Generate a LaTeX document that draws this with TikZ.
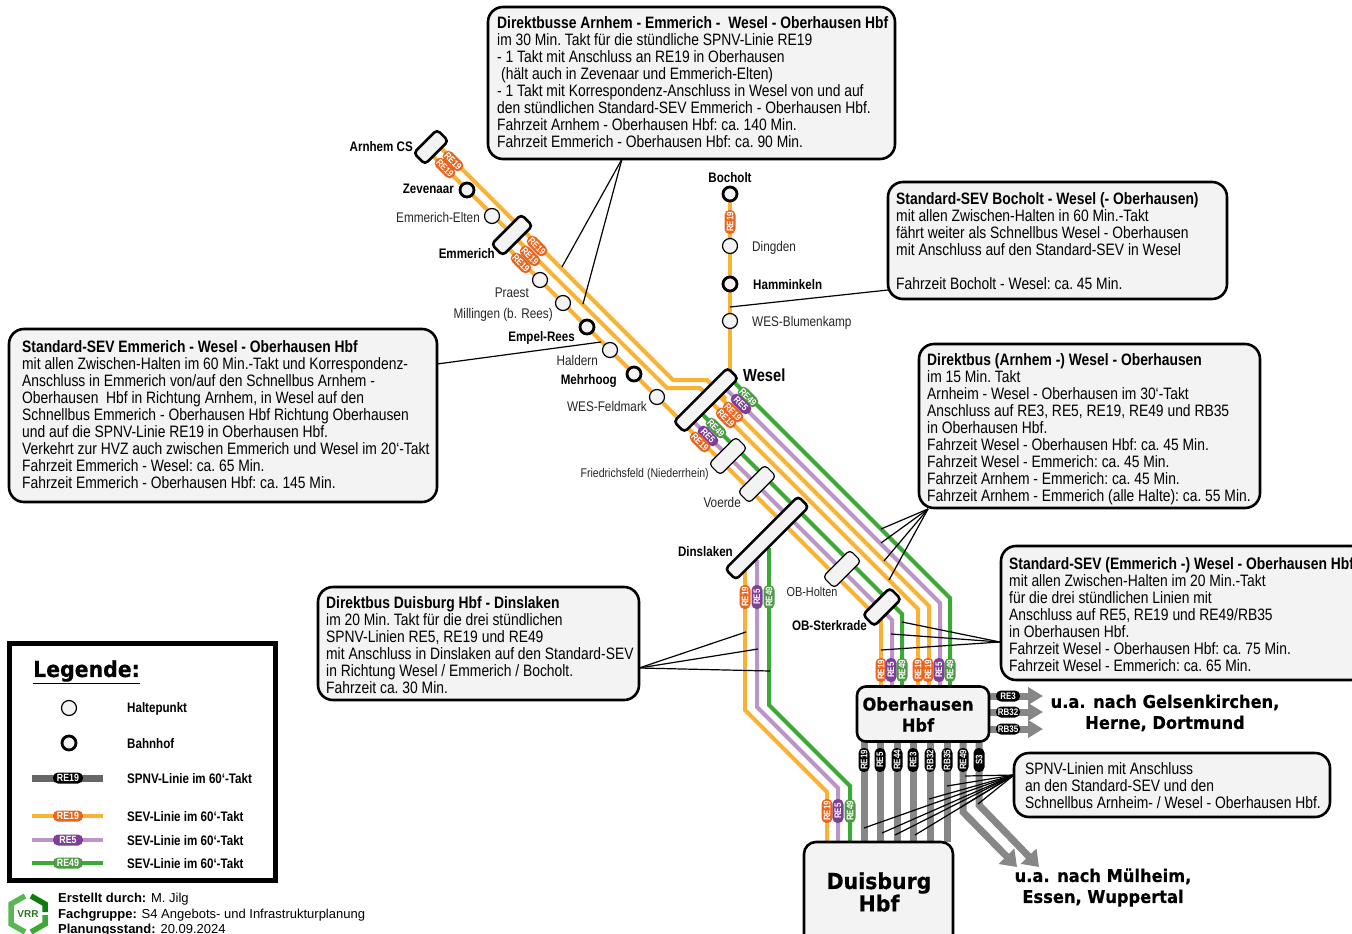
\documentclass[tikz,border=0pt]{standalone}
\usepackage{fontspec}
\setmainfont{Liberation Sans}
\newfontfamily\narrowf[FakeStretch=0.84]{Liberation Sans}
\newfontfamily\blackf[FakeStretch=0.93,BoldFeatures={FakeBold=0.5}]{DejaVu Sans}
\usetikzlibrary{arrows.meta}
\definecolor{lorange}{HTML}{F9B233}
\definecolor{lpurple}{HTML}{BB95C9}
\definecolor{lgreen}{HTML}{3AAA35}
\definecolor{porange}{HTML}{E9651E}
\definecolor{ppurple}{HTML}{7D3F98}
\definecolor{pgreen}{HTML}{4E9A47}
\definecolor{lgray}{HTML}{878787}
\definecolor{boxfill}{HTML}{F3F3F3}
\tikzset{
 x=1pt,y=-1pt,
 sev/.style={line width=4pt,miter limit=10},
 sevo/.style={sev,draw=lorange},
 sevp/.style={sev,draw=lpurple},
 sevg/.style={sev,draw=lgreen},
 spnv/.style={line width=7pt,draw=lgray},
 pill/.style={rounded corners=5pt,minimum width=24pt,minimum height=11pt,inner sep=0pt,text=white,font=\narrowf\bfseries\fontsize{9.5}{10}\selectfont},
 po/.style={pill,fill=porange},
 pp/.style={pill,fill=ppurple},
 pg/.style={pill,fill=pgreen},
 pk/.style={pill,fill=black},
 halt/.style={circle,draw=black,line width=1.2pt,fill=boxfill,minimum size=15pt,inner sep=0pt},
 bhf/.style={circle,draw=black,line width=2.8pt,fill=boxfill,minimum size=14pt,inner sep=0pt},
 bar/.style={rectangle,draw=black,line width=2.6pt,fill=boxfill,rounded corners=4pt,inner sep=0pt,rotate=45,minimum height=15pt},
 thinbar/.style={bar,line width=1.2pt,minimum height=16pt},
 infobox/.style={rectangle,draw=black,line width=2.6pt,fill=boxfill,rounded corners=15pt,inner sep=0pt},
 infotext/.style={anchor=north west,inner sep=0pt,align=left,font=\narrowf\fontsize{16.5}{17}\selectfont\frenchspacing},
 conn/.style={draw=black,line width=1.2pt},
 lab/.style={inner sep=0pt,font=\narrowf\fontsize{14}{16}\selectfont,text=black!85},
 labb/.style={inner sep=0pt,font=\narrowf\bfseries\fontsize{13.8}{16}\selectfont},
 big/.style={inner sep=0pt,align=center,font=\blackf\bfseries\fontsize{17.5}{21}\selectfont},
 hub/.style={rectangle,draw=black,line width=2.6pt,fill=boxfill,rounded corners=9pt,inner sep=0pt},
 legt/.style={anchor=west,inner sep=0pt,font=\narrowf\bfseries\fontsize{13.8}{16}\selectfont},
 foot/.style={anchor=west,inner sep=0pt,font=\fontsize{13}{15}\selectfont},
}
\begin{document}
\begin{tikzpicture}
\clip (0,0) rectangle (1352,934);
\fill[white] (0,0) rectangle (1352,934);

% ---- anchor coordinates of lines
\coordinate (A1) at (437,144);
\coordinate (A2) at (426,149);
\coordinate (E3) at (508,248);
\coordinate (W1) at (726,399);
\coordinate (W2) at (712,400);
\coordinate (WG) at (735,383);
\coordinate (WP) at (727,390);
\coordinate (WO) at (720,397);
\coordinate (WQ) at (712,403);
\coordinate (Wp) at (692,420);
\coordinate (Wg) at (700,412);
\coordinate (DO) at (745,570);
\coordinate (DP) at (757,560);
\coordinate (DG) at (769,548);
\coordinate (Bt) at (730,194);
\coordinate (Bb) at (730,385);

% ---- gray lines
\foreach \i/\x in {1/864,2/880,3/897,4/913,5/930,6/947}{
  \coordinate (gt\i) at (\x,741);
  \coordinate (gb\i) at (\x,842);
  \draw[spnv] (gt\i) -- (gb\i);
}
\coordinate (gt7) at (963,741); \coordinate (gm7) at (963,812); \coordinate (tip7) at (1017,867);
\coordinate (gt8) at (979,741); \coordinate (gm8) at (979,805); \coordinate (tip8) at (1039,867);
\draw[spnv,-{Triangle[length=15pt,width=21pt]}] (gt7) -- (gm7) -- (tip7);
\draw[spnv,-{Triangle[length=15pt,width=21pt]}] (gt8) -- (gm8) -- (tip8);
\foreach \i/\y in {1/696,2/712,3/729}{
  \coordinate (rs\i) at (989,\y); \coordinate (re\i) at (1043,\y);
  \draw[spnv,-{Triangle[length=15pt,width=17pt]}] (rs\i) -- (re\i);
}

% ---- SEV lines
\draw[sevo] (Bt) -- (Bb);
\draw[sevo] (A1) -- (673,380) -- (707,380) -- (W1);
\draw[sevo] (A2) -- (667,388) -- (700,388) -- (W2);
\draw[sevo] (E3) -- (881,621) -- (881,685);
\draw[sevp] (Wp) -- (892,620) -- (892,685);
\draw[sevg] (Wg) -- (902,614) -- (902,685);
\draw[sevg] (WG) -- (950,598) -- (950,685);
\draw[sevp] (WP) -- (940,603) -- (940,685);
\draw[sevo] (WO) -- (929,606) -- (929,685);
\draw[sevo] (WQ) -- (918,609) -- (918,685);
\draw[sevo] (DO) -- (745,710) -- (827,792) -- (827,842);
\draw[sevp] (DP) -- (757,707) -- (838,788) -- (838,842);
\draw[sevg] (DG) -- (769,705) -- (850,786) -- (850,842);

% ---- stations
\node[bar,minimum width=33pt,minimum height=16pt] (arnhem) at (431,147) {};
\node[bar,minimum width=42pt,minimum height=16pt] (emmerich) at (512,235) {};
\node[bar,minimum width=76pt] (wesel) at (706,400) {};
\node[thinbar,minimum width=38pt] (friedr) at (728,456) {};
\node[thinbar,minimum width=38pt] (voerde) at (757,484) {};
\node[bar,minimum width=103pt] (dinslaken) at (767,538) {};
\node[thinbar,minimum width=38pt] (holten) at (842,569) {};
\node[bar,minimum width=38pt,minimum height=16pt] (sterkrade) at (882,607) {};
\node[bhf] (zev) at (467,190) {};
\node[halt] (elten) at (492,216) {};
\node[halt] (praest) at (540,280) {};
\node[halt] (millingen) at (563,303) {};
\node[bhf] (empel) at (587,327) {};
\node[halt] (haldern) at (610,350) {};
\node[bhf] (mehrhoog) at (634,374) {};
\node[halt] (feldmark) at (657,397) {};
\node[bhf] (bocholt) at (730,194) {};
\node[halt] (dingden) at (730,246) {};
\node[bhf] (hamminkeln) at (730,284) {};
\node[halt] (blumenkamp) at (730,321) {};

% ---- hubs
\node[hub,minimum width=132pt,minimum height=55pt] (ober) at (923,714) {};
\node[big] (obert) at (918,714.5) {Oberhausen\\Hbf};
\node[hub,minimum width=149pt,minimum height=120pt,rounded corners=12pt] (duis) at (878.5,902) {};
\node[big,font=\blackf\bfseries\fontsize{22}{21}\selectfont] (duist) at (879,892) {Duisburg\\Hbf};

% ---- pills
\node[po,rotate=-45] (p01) at (453,161) {RE19};
\node[po,rotate=-45] (p02) at (445,168) {RE19};
\node[po,rotate=-45] (p03) at (537,246) {RE19};
\node[po,rotate=-45] (p04) at (530,256) {RE19};
\node[po,rotate=-45] (p05) at (521,263) {RE19};
\node[po,rotate=90] (p06) at (730,222) {RE19};
\node[pg,rotate=-45] (p07) at (748,397) {RE49};
\node[pp,rotate=-45] (p08) at (741,404) {RE5};
\node[po,rotate=-45] (p09) at (733,412) {RE19};
\node[po,rotate=-45] (p10) at (726,418) {RE19};
\node[pg,rotate=-45] (p11) at (716,428) {RE49};
\node[pp,rotate=-45] (p12) at (708,436) {RE5};
\node[po,rotate=-45] (p13) at (700,442) {RE19};
\node[po,rotate=90] (p14) at (745,597) {RE19};
\node[pp,rotate=90] (p15) at (757,597) {RE5};
\node[pg,rotate=90] (p16) at (769,597) {RE49};
\node[po,rotate=90] (p17) at (881,670) {RE19};
\node[pp,rotate=90] (p18) at (891,670) {RE5};
\node[pg,rotate=90] (p19) at (902,670) {RE49};
\node[po,rotate=90] (p20) at (918,670) {RE19};
\node[po,rotate=90] (p21) at (928,670) {RE19};
\node[pp,rotate=90] (p22) at (939,670) {RE5};
\node[pg,rotate=90] (p23) at (950,670) {RE49};
\node[po,rotate=90] (p24) at (827,811) {RE19};
\node[pp,rotate=90] (p25) at (838,811) {RE5};
\node[pg,rotate=90] (p26) at (850,811) {RE49};
\foreach \n/\x/\t in {k1/864/RE19,k2/880/RE5,k3/897/RE44,k4/913/RE3,k5/930/RB32,k6/947/RB35,k7/963/RE49,k8/979/S3}{
  \node[pk,rotate=90] (\n) at (\x,760) {\t};
}
\node[pk] (r1) at (1008,696) {RE3};
\node[pk] (r2) at (1008,712) {RB32};
\node[pk] (r3) at (1008,729) {RB35};

% ---- station labels
\node[labb,anchor=east] (l01) at (413,146.5) {Arnhem CS};
\node[labb,anchor=east] (l02) at (454,189) {Zevenaar};
\node[lab,anchor=east] (l03) at (480,217) {Emmerich-Elten};
\node[labb,anchor=east] (l04) at (495,254) {Emmerich};
\node[lab,anchor=east] (l05) at (529,293) {Praest};
\node[lab,anchor=east] (l06) at (553,315) {Millingen (b. Rees)};
\node[labb,anchor=east] (l07) at (575,338) {Empel-Rees};
\node[lab,anchor=east] (l08) at (598,360) {Haldern};
\node[labb,anchor=east] (l09) at (617,381) {Mehrhoog};
\node[lab,anchor=east] (l10) at (647,406) {WES-Feldmark};
\node[lab,anchor=east,font=\narrowf\fontsize{12.6}{14}\selectfont] (l11) at (709,474) {Friedrichsfeld (Niederrhein)};
\node[lab,anchor=east] (l12) at (741,502) {Voerde};
\node[labb,anchor=east] (l13) at (733,552) {Dinslaken};
\node[lab,font=\narrowf\fontsize{13}{16}\selectfont] (l14) at (812,592) {OB-Holten};
\node[labb,anchor=east] (l15) at (867,626) {OB-Sterkrade};
\node[labb,anchor=west,font=\narrowf\bfseries\fontsize{17.5}{18}\selectfont] (l16) at (743,375) {Wesel};
\node[labb] (l17) at (730,178) {Bocholt};
\node[lab,anchor=west] (l18) at (752,247.5) {Dingden};
\node[labb,anchor=west] (l19) at (753,285) {Hamminkeln};
\node[lab,anchor=west] (l20) at (752,322.5) {WES-Blumenkamp};

% ---- info boxes
\node[infobox,minimum width=407pt,minimum height=152pt] (b1) at (691.5,83) {};
\node[infotext] (b1t) at (497,16) {\textbf{Direktbusse Arnhem - Emmerich - \ Wesel - Oberhausen Hbf}\\
im 30 Min. Takt für die stündliche SPNV-Linie RE19\\
- 1 Takt mit Anschluss an RE19 in Oberhausen\\
\hspace*{4pt}(hält auch in Zevenaar und Emmerich-Elten)\\
- 1 Takt mit Korrespondenz-Anschluss in Wesel von und auf\\
den stündlichen Standard-SEV Emmerich - Oberhausen Hbf.\\
Fahrzeit Arnhem - Oberhausen Hbf: ca. 140 Min.\\
Fahrzeit Emmerich - Oberhausen Hbf: ca. 90 Min.};

\node[infobox,minimum width=339pt,minimum height=117pt] (b2) at (1057.5,240.5) {};
\node[infotext] (b2t) at (896,192) {\textbf{Standard-SEV Bocholt - Wesel (- Oberhausen)}\\
mit allen Zwischen-Halten in 60 Min.-Takt\\
fährt weiter als Schnellbus Wesel - Oberhausen\\
mit Anschluss auf den Standard-SEV in Wesel\\
\mbox{}\\
Fahrzeit Bocholt - Wesel: ca. 45 Min.};

\node[infobox,minimum width=341pt,minimum height=164pt] (b3) at (1089.5,426) {};
\node[infotext] (b3t) at (927,353) {\textbf{Direktbus (Arnhem -) Wesel - Oberhausen}\\
im 15 Min. Takt\\
Arnheim - Wesel - Oberhausen im 30‘-Takt\\
Anschluss auf RE3, RE5, RE19, RE49 und RB35\\
in Oberhausen Hbf.\\
Fahrzeit Wesel - Oberhausen Hbf: ca. 45 Min.\\
Fahrzeit Wesel - Emmerich: ca. 45 Min.\\
Fahrzeit Arnhem - Emmerich: ca. 45 Min.\\
Fahrzeit Arnhem - Emmerich (alle Halte): ca. 55 Min.};

\node[infobox,minimum width=365pt,minimum height=134pt] (b4) at (1183.5,613) {};
\node[infotext] (b4t) at (1009,557) {\textbf{Standard-SEV (Emmerich -) Wesel - Oberhausen Hbf}\\
mit allen Zwischen-Halten im 20 Min.-Takt\\
für die drei stündlichen Linien mit\\
Anschluss auf RE5, RE19 und RE49/RB35\\
in Oberhausen Hbf.\\
Fahrzeit Wesel - Oberhausen Hbf: ca. 75 Min.\\
Fahrzeit Wesel - Emmerich: ca. 65 Min.};

\node[infobox,minimum width=321pt,minimum height=113pt] (b5) at (478.5,643.5) {};
\node[infotext] (b5t) at (326,596) {\textbf{Direktbus Duisburg Hbf - Dinslaken}\\
im 20 Min. Takt für die drei stündlichen\\
SPNV-Linien RE5, RE19 und RE49\\
mit Anschluss in Dinslaken auf den Standard-SEV\\
in Richtung Wesel / Emmerich / Bocholt.\\
Fahrzeit ca. 30 Min.};

\node[infobox,minimum width=428pt,minimum height=173pt] (b6) at (223,415.5) {};
\node[infotext] (b6t) at (22,340) {\textbf{Standard-SEV Emmerich - Wesel - Oberhausen Hbf}\\
mit allen Zwischen-Halten im 60 Min.-Takt und Korrespondenz-\\
Anschluss in Emmerich von/auf den Schnellbus Arnhem -\\
Oberhausen \ Hbf in Richtung Arnhem, in Wesel auf den\\
Schnellbus Emmerich - Oberhausen Hbf Richtung Oberhausen\\
und auf die SPNV-Linie RE19 in Oberhausen Hbf.\\
Verkehrt zur HVZ auch zwischen Emmerich und Wesel im 20‘-Takt\\
Fahrzeit Emmerich - Wesel: ca. 65 Min.\\
Fahrzeit Emmerich - Oberhausen Hbf: ca. 145 Min.};

\node[infobox,minimum width=316pt,minimum height=64pt] (b7) at (1172,785) {};
\node[infotext] (b7t) at (1025,762) {SPNV-Linien mit Anschluss\\
an den Standard-SEV und den\\
Schnellbus Arnheim- / Wesel - Oberhausen Hbf.};

% ---- connectors
\coordinate (b1a) at (622,159);
\coordinate (c11) at (562,267); \coordinate (c12) at (583,304);
\draw[conn] (b1a) -- (c11); \draw[conn] (b1a) -- (c12);
\coordinate (b2a) at (888,290); \coordinate (c21) at (730,307);
\draw[conn] (b2a) -- (c21);
\coordinate (b6a) at (437,364); \coordinate (c61) at (601,342);
\draw[conn] (b6a) -- (c61);
\coordinate (b3a) at (928,509);
\foreach \i/\p in {1/{881,529},2/{881,543},3/{884,561},4/{889,580}}{
  \coordinate (c3\i) at (\p); \draw[conn] (b3a) -- (c3\i);
}
\coordinate (b4a) at (1000,642);
\foreach \i/\p in {1/{902,622},2/{891,634},3/{881,650}}{
  \coordinate (c4\i) at (\p); \draw[conn] (b4a) -- (c4\i);
}
\coordinate (b5a) at (639,668);
\foreach \i/\p in {1/{746,632},2/{758,649},3/{770,671}}{
  \coordinate (c5\i) at (\p); \draw[conn] (b5a) -- (c5\i);
}
\coordinate (b7a) at (1014,775);
\foreach \i/\p in {1/{965,776},2/{947,786},3/{929,799},4/{978,804},5/{961,807},6/{915,835},7/{895,835},8/{882,833},9/{864,828}}{
  \coordinate (c7\i) at (\p); \draw[conn] (b7a) -- (c7\i);
}

% ---- big texts
\node[big] (t1) at (1165,713) {u.a. nach Gelsenkirchen,\\Herne, Dortmund};
\node[big] (t2) at (1103,887.5) {u.a. nach Mülheim,\\Essen, Wuppertal};

% ---- legend
\node[rectangle,draw=black,line width=5pt,minimum width=266pt,minimum height=237pt,inner sep=0pt] (leg) at (142.5,762) {};
\node[inner sep=0pt,anchor=west,font=\blackf\bfseries\fontsize{22}{22}\selectfont] (legt) at (33,672) {\underline{Legende:}};
\node[halt] (lg1) at (69,708) {};
\node[bhf] (lg2) at (69,743) {};
\coordinate (ls4) at (32,778); \coordinate (le4) at (103,778);
\draw[line width=7pt,draw=black!60] (ls4) -- (le4);
\node[pk,minimum width=30pt] (lp4) at (68,778) {\fontsize{10.5}{10}\selectfont RE19};
\coordinate (ls5) at (32,816); \coordinate (le5) at (103,816);
\draw[sevo] (ls5) -- (le5);
\node[po,minimum width=30pt] (lp5) at (68,816) {\fontsize{10.5}{10}\selectfont RE19};
\coordinate (ls6) at (32,840); \coordinate (le6) at (103,840);
\draw[sevp] (ls6) -- (le6);
\node[pp,minimum width=30pt] (lp6) at (68,840) {\fontsize{10.5}{10}\selectfont RE5};
\coordinate (ls7) at (32,863); \coordinate (le7) at (103,863);
\draw[sevg] (ls7) -- (le7);
\node[pg,minimum width=30pt] (lp7) at (68,863) {\fontsize{10.5}{10}\selectfont RE49};
\node[legt] (lt1) at (127,709) {Haltepunkt};
\node[legt] (lt2) at (127,743.5) {Bahnhof};
\node[legt] (lt3) at (127,778.5) {SPNV-Linie im 60‘-Takt};
\node[legt] (lt4) at (127,816.5) {SEV-Linie im 60‘-Takt};
\node[legt] (lt5) at (127,840.5) {SEV-Linie im 60‘-Takt};
\node[legt] (lt6) at (127,863.5) {SEV-Linie im 60‘-Takt};

% ---- footer
\node[foot] (f1) at (58,899) {\textbf{Erstellt durch:} M. Jilg};
\node[foot] (f2) at (58,915) {\textbf{Fachgruppe:} S4 Angebots- und Infrastrukturplanung};
\node[foot] (f3) at (58,930) {\textbf{Planungsstand:} 20.09.2024};

% ---- VRR logo
\begin{scope}[line width=5.5pt,line cap=butt]
\draw[draw=lgreen!85!white] (25,896) -- (11,904) -- (11,924) -- (25,932);
\draw[draw=green!45!black!80!lgreen] (31,896) -- (45,904) -- (45,912);
\draw[draw=lgreen] (45,915) -- (45,924) -- (31,932);
\end{scope}
\node[inner sep=0pt,text=lgreen!70!black,font=\bfseries\fontsize{10}{11}\selectfont] (vrr) at (28,914.5) {VRR};
\end{tikzpicture}
\end{document}
